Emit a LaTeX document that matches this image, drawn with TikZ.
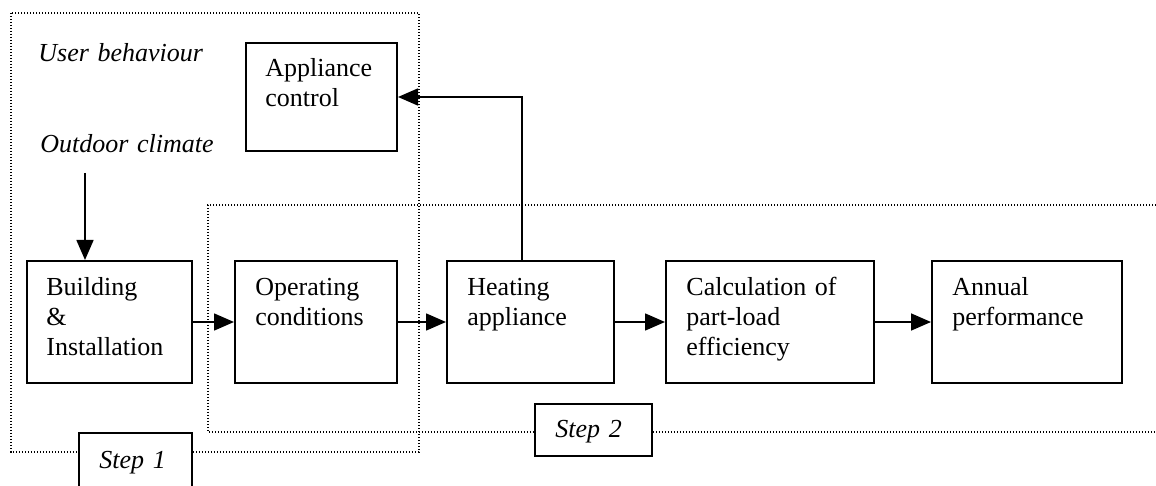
\documentclass[tikz,border=0pt]{standalone}
\usepackage{fontspec}
\setmainfont{Liberation Serif}
\usetikzlibrary{arrows.meta}

\begin{document}
\begin{tikzpicture}[x=0.5pt,y=-0.5pt,
  block/.style={draw, line width=1pt, anchor=north west, inner sep=0pt, fill=white},
  txt/.style={anchor=base west, inner sep=0pt, align=left, text width=110pt,
              font=\fontsize{13}{15}\selectfont},
  itxt/.style={txt, font=\fontsize{13}{15}\selectfont\itshape},
  arr/.style={line width=0.8pt, -{Triangle[length=10pt,width=8.5pt]}},
  region/.style={line width=0.6pt, dash pattern=on 0.6pt off 0.9pt}]

\useasboundingbox (0,0) rectangle (1156,486);

% step regions
\draw[region] (11,13) rectangle (419,452);
\draw[region] (1156,205) -- (208,205) -- (208,432) -- (1156,432);

% inputs
\node[itxt] (user) at (38,62) {User behaviour};
\node[itxt] (clim) at (40,153) {Outdoor climate};
\coordinate (climarr) at (85,173);

% blocks
\node[block, minimum width=75.5pt, minimum height=54pt] (appl) at (245,42) {};
\node[block, minimum width=82.5pt, minimum height=61pt] (bld)  at (26,260) {};
\node[block, minimum width=81pt,   minimum height=61pt] (op)   at (234,260) {};
\node[block, minimum width=83.5pt, minimum height=61pt] (heat) at (446,260) {};
\node[block, minimum width=104pt,  minimum height=61pt] (calc) at (665,260) {};
\node[block, minimum width=95pt,   minimum height=61pt] (ann)  at (931,260) {};

\node[txt] (applt) at ([shift={(20,35)}]appl.north west) {Appliance\\control};
\node[txt] (bldt)  at ([shift={(20,35)}]bld.north west)  {Building\\\&\\Installation};
\node[txt] (opt)   at ([shift={(21,35)}]op.north west)   {Operating\\conditions};
\node[txt] (heatt) at ([shift={(21,35)}]heat.north west) {Heating\\appliance};
\node[txt] (calct) at ([shift={(21,35)}]calc.north west) {Calculation of\\part-load\\efficiency};
\node[txt] (annt)  at ([shift={(21,35)}]ann.north west)  {Annual\\performance};

% step labels
\node[block, minimum width=56.5pt, minimum height=30pt] (s1) at (78,432) {};
\node[block, minimum width=58.5pt, minimum height=26pt] (s2) at (534,403) {};
\node[itxt] (s1t) at ([shift={(21,36)}]s1.north west) {Step 1};
\node[itxt] (s2t) at ([shift={(21,34)}]s2.north west) {Step 2};

% connectors
\draw[arr] (climarr) -- (climarr |- bld.north);
\draw[arr] (bld.east) -- (op.west);
\draw[arr] (op.east) -- (heat.west);
\draw[arr] (heat.east) -- (calc.west);
\draw[arr] (calc.east) -- (ann.west);
\draw[arr] ([xshift=38pt]heat.north west) |- (appl.east);

\end{tikzpicture}
\end{document}
